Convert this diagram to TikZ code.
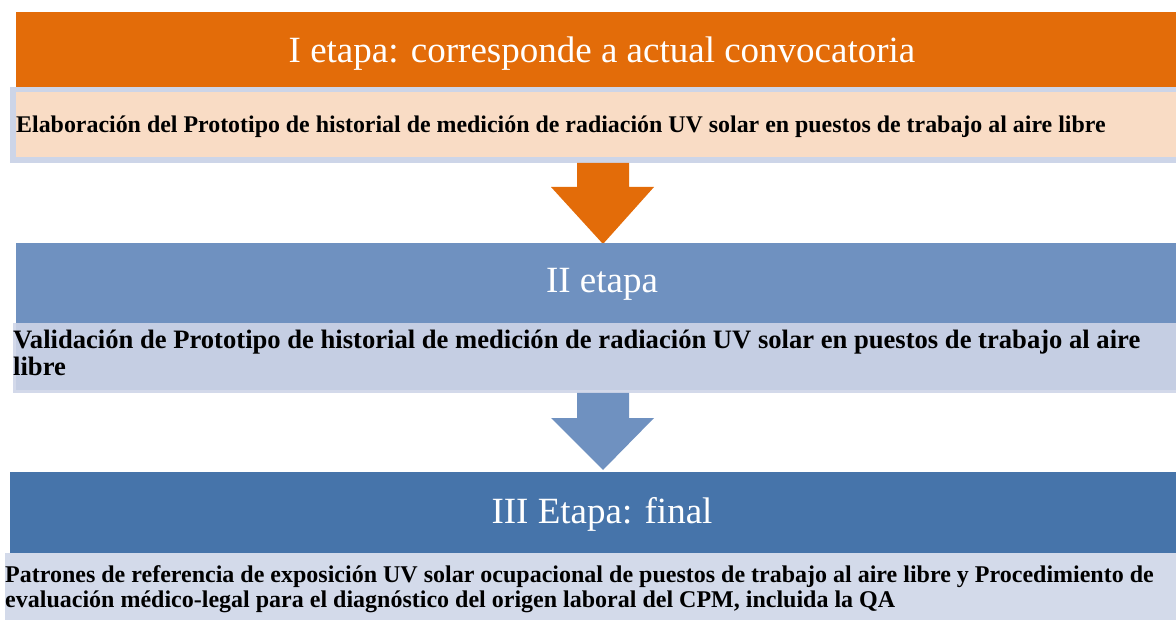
\documentclass[tikz,border=0pt]{standalone}
\usepackage{fontspec}
\setmainfont{Liberation Serif}
\definecolor{orangeA}{HTML}{E36C09}
\definecolor{peach}{HTML}{F9DCC5}
\definecolor{peachedge}{HTML}{CDD5E8}
\definecolor{blueA}{HTML}{6F91C0}
\definecolor{blueAtext}{HTML}{C5CEE3}
\definecolor{blueAedge}{HTML}{D3D9EA}
\definecolor{blueB}{HTML}{4674AA}
\definecolor{blueBtext}{HTML}{D3DAEA}
\tikzset{
  band/.style={draw=none, inner sep=0pt, outer sep=0pt, anchor=north west},
  title/.style={text=white, inner sep=0pt, anchor=base, font=\fontsize{37}{44}\selectfont},
  body/.style={text=black, inner sep=0pt, anchor=base west, align=left},
}
\begin{document}
\begin{tikzpicture}[x=1pt,y=-1pt]
\useasboundingbox (0,0) rectangle (1176,620);
% stage I
\node[band, fill=orangeA, minimum width=1160pt, minimum height=75pt] (h1) at (16,12) {};
\node[title] (t1) at (602,63) {I etapa: corresponde a actual convocatoria};
\node[band, fill=peachedge, minimum width=1166pt, minimum height=76pt] (b1e) at (10,87) {};
\node[band, fill=peach, minimum width=1160pt, minimum height=65pt] (b1) at (16,92) {};
\node[body, font=\bfseries\fontsize{23.9}{27}\selectfont] (x1) at (16,133) {Elaboración del Prototipo de historial de medición de radiación UV solar en puestos de trabajo al aire libre};
% arrow 1
\fill[orangeA] (577,163) -- (629,163) -- (629,187) -- (654,187) -- (603,244) -- (551,187) -- (577,187) -- cycle;
% stage II
\node[band, fill=blueA, minimum width=1160pt, minimum height=80pt] (h2) at (16,243) {};
\node[title] (t2) at (602,293) {II etapa};
\node[band, fill=blueAedge, minimum width=1163pt, minimum height=70pt] (b2e) at (13,323) {};
\node[band, fill=blueAtext, minimum width=1160pt, minimum height=67pt] (b2) at (16,323) {};
\node[body, font=\bfseries\fontsize{26.6}{27}\selectfont] (x2) at (13,376) {Validación de Prototipo de historial de medición de radiación UV solar en puestos de trabajo al aire\\libre};
% arrow 2
\fill[blueA] (577,393) -- (629,393) -- (629,418) -- (654,418) -- (603,470) -- (551,418) -- (577,418) -- cycle;
% stage III
\node[band, fill=blueB, minimum width=1166pt, minimum height=81pt] (h3) at (10,472) {};
\node[title] (t3) at (602,523) {III Etapa: final};
\node[band, fill=blueBtext, minimum width=1171pt, minimum height=67pt] (b3) at (5,553) {};
\node[body, font=\bfseries\fontsize{24}{24.5}\selectfont] (x3) at (5,607) {Patrones de referencia de exposición UV solar ocupacional de puestos de trabajo al aire libre y Procedimiento de\\evaluación médico-legal para el diagnóstico del origen laboral del CPM, incluida la QA};
\end{tikzpicture}
\end{document}
